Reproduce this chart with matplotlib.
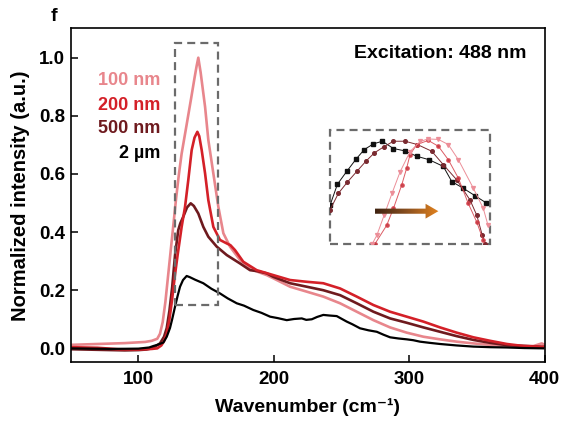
import numpy as np
import matplotlib
matplotlib.use("Agg")
import matplotlib.pyplot as plt
from matplotlib.patches import Rectangle, FancyArrow
from matplotlib.colors import LinearSegmentedColormap

plt.rcParams['font.family'] = ['Liberation Sans', 'DejaVu Sans']
plt.rcParams['font.weight'] = 'bold'

# main spectra (wavenumber, normalized intensity)
x_100 = [50, 70, 90, 105, 110, 114, 116, 118, 120, 122, 124, 126, 128, 130,
         132, 135.7, 139, 141.5, 143, 144.3, 146, 149.3, 151.7, 155.4, 159.1,
         162.8, 167.7, 175.1, 184.9, 194.8, 199.7, 212.1, 224.4, 236.6, 249,
         261.3, 273.6, 285.9, 298.2, 310.5, 322.8, 335.1, 347.4, 360, 372.1,
         391.8, 397.9, 400]
y_100 = [0.012, 0.015, 0.018, 0.022, 0.026, 0.033, 0.05, 0.09, 0.16, 0.25,
         0.34, 0.43, 0.52, 0.60, 0.67, 0.77, 0.86, 0.93, 0.97, 1.0, 0.95,
         0.831, 0.717, 0.602, 0.487, 0.396, 0.35, 0.304, 0.269, 0.252, 0.241,
         0.212, 0.195, 0.178, 0.155, 0.126, 0.097, 0.072, 0.054, 0.04, 0.031,
         0.023, 0.017, 0.012, 0.008, 0.008, 0.017, 0.012]

x_200 = [50, 70, 85, 100, 110, 114, 117, 119, 121, 123, 125, 127, 129, 132,
         134.5, 136.9, 139.4, 141.5, 143.6, 145, 146.8, 149.3, 151.7, 155.4,
         160.3, 165.3, 168, 171.4, 177.5, 187.4, 199.7, 212.1, 224.4, 236.6,
         249, 261.3, 273.6, 285.9, 298.2, 310.5, 322.8, 335.1, 347.4, 359.7,
         372.1, 384.3, 400]
y_200 = [0.004, 0.002, -0.003, -0.004, -0.002, 0.0, 0.01, 0.025, 0.05, 0.10,
         0.17, 0.25, 0.32, 0.418, 0.487, 0.579, 0.682, 0.725, 0.745, 0.73,
         0.682, 0.602, 0.51, 0.418, 0.373, 0.361, 0.355, 0.338, 0.298, 0.269,
         0.252, 0.235, 0.229, 0.224, 0.206, 0.178, 0.149, 0.126, 0.109, 0.092,
         0.072, 0.054, 0.038, 0.026, 0.015, 0.008, 0.005]

x_500 = [50, 70, 90, 100, 106, 110, 113, 116, 119, 121, 123, 125, 127.1,
         129.5, 131, 133.2, 136, 138.7, 141, 144.3, 148, 151.7, 157.9, 165.3,
         175.1, 182.5, 187.4, 194.8, 199.7, 212.1, 224.4, 236.6, 249, 261.3,
         273.6, 285.9, 298.2, 310.5, 322.8, 335.1, 347.4, 359.7, 372.1, 400]
y_500 = [-0.003, -0.005, -0.007, -0.006, -0.004, 0.0, 0.008, 0.017, 0.04,
         0.07, 0.13, 0.21, 0.32, 0.407, 0.43, 0.453, 0.485, 0.499, 0.49,
         0.464, 0.418, 0.384, 0.35, 0.321, 0.292, 0.269, 0.266, 0.258, 0.246,
         0.224, 0.212, 0.2, 0.183, 0.155, 0.126, 0.103, 0.088, 0.072, 0.057,
         0.042, 0.029, 0.019, 0.011, 0.005]

x_2um = [50, 80, 100, 108, 111.1, 114, 118.5, 121, 123.4, 125, 127.1, 129,
         130.8, 133, 135.7, 138, 142, 148, 154, 160.3, 166, 172.7, 178, 184.9,
         191, 197.3, 203, 209.6, 215, 220.7, 224, 228.1, 232, 236.6, 241,
         246.5, 250, 253.9, 258, 263.7, 270, 276.1, 281, 285.9, 292, 298.2,
         303, 308, 315, 322.8, 335, 347.4, 360, 372.1, 385, 399]
y_2um = [0.0, -0.002, -0.001, 0.003, 0.008, 0.012, 0.02, 0.04, 0.07, 0.10,
         0.143, 0.18, 0.212, 0.235, 0.249, 0.245, 0.236, 0.224, 0.205, 0.189,
         0.172, 0.155, 0.147, 0.132, 0.122, 0.109, 0.104, 0.097, 0.101, 0.103,
         0.098, 0.1, 0.108, 0.115, 0.113, 0.111, 0.102, 0.092, 0.083, 0.069,
         0.062, 0.057, 0.047, 0.038, 0.034, 0.031, 0.028, 0.023, 0.019, 0.015,
         0.01, 0.006, 0.004, 0.003, 0.001, 0.0]

# zoomed peak shapes in the inset (fraction of inset box)
ix_2um = [0, 0.046, 0.104, 0.163, 0.214, 0.271, 0.327, 0.396, 0.469, 0.542,
          0.619, 0.708, 0.761, 0.833, 0.906, 0.975]
iy_2um = [0.341, 0.525, 0.637, 0.746, 0.829, 0.879, 0.902, 0.838, 0.817,
          0.770, 0.740, 0.681, 0.548, 0.489, 0.424, 0.362]
ix_500 = [0, 0.052, 0.108, 0.167, 0.223, 0.277, 0.336, 0.396, 0.469, 0.546,
          0.636, 0.708, 0.792, 0.875, 0.917, 0.952, 0.969]
iy_500 = [0.30, 0.445, 0.543, 0.637, 0.725, 0.800, 0.853, 0.902, 0.902,
          0.873, 0.814, 0.696, 0.563, 0.386, 0.253, 0.075, 0.004]
ix_200 = [0.281, 0.354, 0.396, 0.448, 0.479, 0.5, 0.542, 0.614, 0.677, 0.739,
          0.802, 0.864, 0.917, 0.958]
iy_200 = [0.002, 0.164, 0.312, 0.519, 0.667, 0.785, 0.873, 0.909, 0.858,
          0.740, 0.578, 0.356, 0.193, 0.031]
ix_100 = [0.263, 0.292, 0.338, 0.388, 0.438, 0.5, 0.5625, 0.6125, 0.677,
          0.739, 0.802, 0.896, 0.958, 0.9875]
iy_100 = [0.0, 0.075, 0.253, 0.448, 0.634, 0.811, 0.9, 0.922, 0.918, 0.873,
          0.740, 0.489, 0.312, 0.164]

labels = ['100 nm', '200 nm', '500 nm', '2 \u00b5m']
colors = ['#e8868c', '#d42028', '#6e1a1e', '#000000']

fig = plt.figure(figsize=(5.67, 4.23), dpi=100)
ax = fig.add_axes([0.1245, 0.1435, 0.836, 0.7895])

ax.plot(x_100, y_100, color=colors[0], lw=1.9)
ax.plot(x_500, y_500, color=colors[2], lw=1.9)
ax.plot(x_200, y_200, color=colors[1], lw=1.9)
ax.plot(x_2um, y_2um, color=colors[3], lw=1.6)

ax.set_xlim(50, 400)
ax.set_ylim(-0.048, 1.101)
ax.set_xticks([100, 200, 300, 400])
ax.set_yticks([0.0, 0.2, 0.4, 0.6, 0.8, 1.0])
ax.yaxis.set_major_formatter(matplotlib.ticker.FormatStrFormatter('%.1f'))
ax.tick_params(direction='in', length=5, width=1.1, labelsize=13.5, pad=6)
ax.tick_params(axis='y', pad=4)
for s in ax.spines.values():
    s.set_linewidth(1.2)

ax.set_xlabel('Wavenumber (cm\u207b\u00b9)', fontsize=14, fontweight='bold')
ax.set_ylabel('Normalized intensity (a.u.)', fontsize=14.5, fontweight='bold')
ax.xaxis.set_label_coords(0.5, -0.107)
ax.yaxis.set_label_coords(-0.086, 0.5)

# size labels
label_y = [0.92, 0.834, 0.755, 0.669]
for lab, c, yy in zip(labels, colors, label_y):
    ax.text(116.4, yy, lab, color=c, fontsize=13, fontweight='bold',
            ha='right', va='center')

ax.text(386.3, 1.015, 'Excitation: 488 nm', fontsize=14, fontweight='bold',
        ha='right', va='center')
fig.text(0.095, 0.962, 'f', fontsize=14, fontweight='bold', ha='center',
         va='center')

dash = (0, (3.6, 2.3))
ax.add_patch(Rectangle((126.8, 0.149), 32.4, 0.90, fill=False,
                       edgecolor='#6b6b6b', lw=1.6, linestyle=dash, zorder=5))
ax.add_patch(Rectangle((241.6, 0.359), 118.1, 0.392, fill=False,
                       edgecolor='#6b6b6b', lw=1.6, linestyle=dash, zorder=5))

# inset
axi = ax.inset_axes([241.6, 0.359, 118.1, 0.392], transform=ax.transData)
axi.axis('off')
axi.patch.set_alpha(0)
axi.plot(ix_2um, iy_2um, color='#111111', lw=0.7, marker='s', ms=2.6)
axi.plot(ix_500, iy_500, color='#7a2a30', lw=0.7, marker='o', ms=2.6)
axi.plot(ix_200, iy_200, color='#d6404a', lw=0.7, marker='o', ms=2.4,
         mfc='#b8303a', alpha=0.85)
axi.plot(ix_100, iy_100, color='#ec8e98', lw=0.7, marker='v', ms=2.8)

arrow = FancyArrow(0.281, 0.288, 0.396, 0, width=0.045, head_width=0.13,
                   head_length=0.08, length_includes_head=True,
                   facecolor='none', edgecolor='none')
axi.add_patch(arrow)
cmap = LinearSegmentedColormap.from_list('arr', ['#3e2210', '#8a5020',
                                                 '#e2821e'])
grad = axi.imshow(np.linspace(0, 1, 256).reshape(1, -1), cmap=cmap,
                  extent=[0.281, 0.677, 0.2, 0.38], aspect='auto', zorder=6)
grad.set_clip_path(arrow)
axi.set_xlim(0, 1)
axi.set_ylim(0, 1)

fig.savefig('out.png', dpi=100)
